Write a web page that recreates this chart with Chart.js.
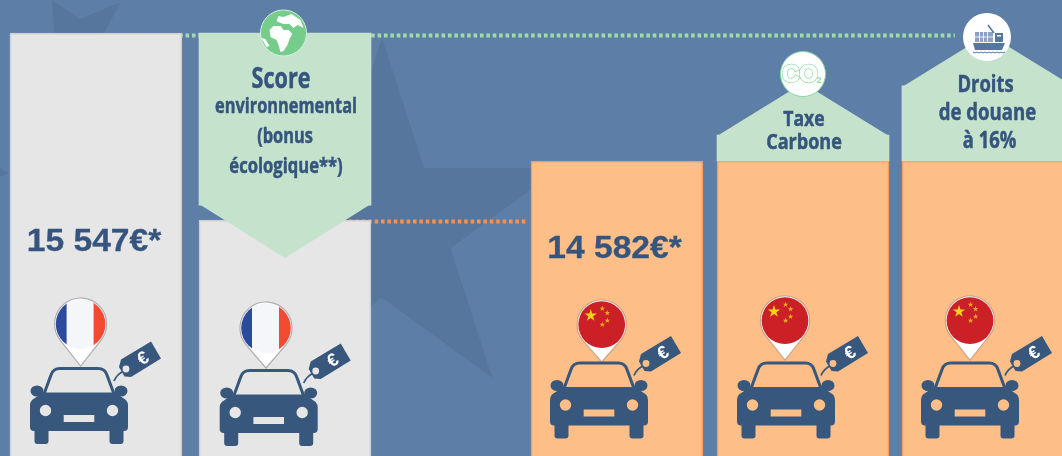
<!DOCTYPE html>
<html lang="fr">
<head>
<meta charset="utf-8">
<title>Prix France / Chine</title>
<style>
  html, body { margin: 0; padding: 0; background: #5d7ea6; overflow: hidden; }
  canvas { display: block; }
</style>
<script src="https://cdn.jsdelivr.net/npm/chart.js@4/dist/chart.umd.min.js"></script>
</head>
<body>
<canvas id="chart" width="1062" height="456"></canvas>
<script>
// =========================
// Data
const barSlots = [0, 1.011, 2.786, 3.781, 4.77];
const barValues = [15547, 14137, 14582, 14582, 14582];
const barOrigin = ['fr', 'fr', 'cn', 'cn', 'cn'];

// green labels: bottom and top of the box, then the point of the arrow/roof
const extraSlots = [1.011, 3.781, 4.77];
const extraLow = [14250, 14582, 14582];
const extraHigh = [15547, 14778, 15148];
const extraTips = [13851, 15170, 15540];

const greenLineX = [0, 4.593];
const greenLineY = [15528, 15528];
const orangeLineX = [1.011, 2.305];
const orangeLineY = [14126, 14126];

const priceBars = [0, 2];
const scoreLines = ['Score', 'environnemental', '(bonus', 'écologique**)'];
const taxeLines = ['Taxe', 'Carbone'];
const droitsLines = ['Droits', 'de douane', 'à 16%'];

// =========================
// Colours
const BG = '#5d7ea6';
const STAR = '#56769d';
const GREY = '#e6e6e6';
const GREY_EDGE = '#cfcfcf';
const ORANGE = '#fdbf87';
const ORANGE_EDGE = '#f79a5e';
const GREEN = '#c5e3cc';
const INK = '#36557e';
const CAR = '#38577c';

const fillOf = o => o === 'fr' ? GREY : ORANGE;
const toPoints = (xs, ys) => xs.map((x, i) => ({x, y: ys[i]}));

// =========================
// Drawing helpers
function poly(ctx, pts, color){
  ctx.fillStyle = color;
  ctx.beginPath();
  pts.forEach((p, i) => i ? ctx.lineTo(p[0], p[1]) : ctx.moveTo(p[0], p[1]));
  ctx.closePath();
  ctx.fill();
}

function starPoints(cx, cy, R){
  const pts = [];
  for(let i = 0; i < 10; i++){
    const r = i % 2 ? R * 0.382 : R;
    const a = -Math.PI / 2 + i * Math.PI / 5;
    pts.push([cx + r * Math.cos(a), cy + r * Math.sin(a)]);
  }
  return pts;
}

// squeezed Open Sans stands in for the condensed cut, a thin stroke adds the weight
function label(ctx, text, cx, y, size, sx, font){
  ctx.save();
  ctx.translate(cx, y);
  ctx.scale(sx, 1);
  ctx.font = `bold ${size}px ${font || '"Open Sans"'}`;
  ctx.fillStyle = INK;
  ctx.strokeStyle = INK;
  ctx.lineWidth = font ? 0.3 : 0.5;
  ctx.textAlign = 'center';
  ctx.textBaseline = 'alphabetic';
  ctx.fillText(text, 0, 0);
  ctx.strokeText(text, 0, 0);
  ctx.restore();
}

function drawBackground(ctx, w, h){
  ctx.fillStyle = BG;
  ctx.fillRect(0, 0, w, h);
  poly(ctx, starPoints(382, 226, 188), STAR);
  poly(ctx, [[52, 0], [80, 19], [121, 2], [100, 40], [55, 40]], STAR);
  poly(ctx, [[0, 168], [9, 173], [0, 177]], STAR);
}

function drawCar(ctx, cx, top, bg){
  ctx.save();
  ctx.translate(cx, top);
  ctx.fillStyle = CAR;
  ctx.strokeStyle = CAR;

  // roof outline
  ctx.lineWidth = 3;
  ctx.beginPath();
  ctx.moveTo(-35, 27);
  ctx.lineTo(-28, 8);
  ctx.quadraticCurveTo(-26, 1.5, -19, 1.5);
  ctx.lineTo(19, 1.5);
  ctx.quadraticCurveTo(26, 1.5, 28, 8);
  ctx.lineTo(35, 27);
  ctx.stroke();

  // mirrors
  ctx.beginPath();
  ctx.ellipse(-42, 24, 6.5, 5.5, 0, 0, Math.PI * 2);
  ctx.ellipse(42, 24, 6.5, 5.5, 0, 0, Math.PI * 2);
  ctx.fill();

  // body and wheels
  ctx.beginPath();
  ctx.moveTo(-36, 25.5);
  ctx.lineTo(36, 25.5);
  ctx.lineTo(47, 33);
  ctx.quadraticCurveTo(49, 35, 49, 39);
  ctx.lineTo(49, 60);
  ctx.quadraticCurveTo(49, 64, 45, 64);
  ctx.lineTo(-45, 64);
  ctx.quadraticCurveTo(-49, 64, -49, 60);
  ctx.lineTo(-49, 39);
  ctx.quadraticCurveTo(-49, 35, -47, 33);
  ctx.closePath();
  ctx.fill();
  ctx.beginPath();
  ctx.roundRect(-44.5, 60, 14, 17, 3);
  ctx.roundRect(30.5, 60, 14, 17, 3);
  ctx.fill();

  // lights and plate
  ctx.fillStyle = bg;
  ctx.beginPath();
  ctx.arc(-33.5, 43.5, 5.7, 0, Math.PI * 2);
  ctx.arc(33.5, 43.5, 5.7, 0, Math.PI * 2);
  ctx.fill();
  ctx.fillRect(-15.3, 48, 30.6, 7);

  // price tag
  ctx.lineWidth = 1.8;
  ctx.beginPath();
  ctx.moveTo(35, 14);
  ctx.quadraticCurveTo(38, 7, 45, 4);
  ctx.stroke();
  ctx.fillStyle = CAR;
  ctx.beginPath();
  ctx.moveTo(72, -25.5);
  ctx.lineTo(82, -8.5);
  ctx.lineTo(52, 10);
  ctx.lineTo(45.5, 9.5);
  ctx.lineTo(40, 0);
  ctx.lineTo(42, -7.5);
  ctx.closePath();
  ctx.fill();
  ctx.fillStyle = bg;
  ctx.beginPath();
  ctx.arc(47, 2, 3.4, 0, Math.PI * 2);
  ctx.fill();
  ctx.translate(64, -9);
  ctx.rotate(-0.55);
  ctx.fillStyle = '#ffffff';
  ctx.font = 'bold 18px "Liberation Sans"';
  ctx.textAlign = 'center';
  ctx.textBaseline = 'middle';
  ctx.fillText('€', 0, 1);
  ctx.restore();
}

function drawPin(ctx, cx, top, tip, origin){
  const R = origin === 'fr' ? 26 : 24.6;
  const cy = top + R;
  const spread = 0.62;
  ctx.save();

  // teardrop
  ctx.beginPath();
  ctx.arc(cx, cy, R, Math.PI * 0.5 + spread + 0.25, Math.PI * 0.5 - spread - 0.25);
  ctx.lineTo(cx, tip);
  ctx.closePath();
  ctx.fillStyle = '#ffffff';
  ctx.fill();
  ctx.strokeStyle = origin === 'fr' ? 'rgba(130,130,130,0.6)' : 'rgba(170,130,110,0.6)';
  ctx.lineWidth = 1.2;
  ctx.stroke();

  // flag disc
  ctx.beginPath();
  ctx.arc(cx, cy, R - 1.2, 0, Math.PI * 2);
  ctx.clip();
  if(origin === 'fr'){
    ctx.fillStyle = '#f5f6fa';
    ctx.fillRect(cx - R, top, 2 * R, 2 * R);
    ctx.fillStyle = '#2c4a9e';
    ctx.fillRect(cx - R, top, R - 14, 2 * R);
    ctx.fillStyle = '#f44a32';
    ctx.fillRect(cx + 13, top, R - 13, 2 * R);
  } else {
    ctx.fillStyle = '#cb2026';
    ctx.fillRect(cx - R, top, 2 * R, 2 * R);
    poly(ctx, starPoints(cx - 11, cy - 9, 6.5), '#f7d21c');
    [[0.6, -16], [5.6, -11.6], [5.6, -4], [0.6, 0]].forEach(p => {
      poly(ctx, starPoints(cx + p[0], cy + p[1], 3), '#eda823');
    });
  }
  ctx.restore();
}

function drawDisc(ctx, cx, cy, r, fill, edge){
  ctx.beginPath();
  ctx.arc(cx, cy, r, 0, Math.PI * 2);
  ctx.fillStyle = fill;
  ctx.fill();
  if(edge){
    ctx.strokeStyle = edge;
    ctx.lineWidth = 1;
    ctx.stroke();
  }
}

function drawGlobe(ctx, cx, cy){
  drawDisc(ctx, cx, cy, 23, '#75cc8b', '#d6efdc');
  const at = pts => pts.map(p => [cx + p[0], cy + p[1]]);
  poly(ctx, at([[-14, -3], [-10, -7], [-3, -7], [0, -3], [5, -3], [9, 1], [6, 6], [4, 12],
    [0, 18], [-3, 19], [-5, 12], [-7, 7], [-13, 4]]), '#ffffff');
  poly(ctx, at([[-7, -12], [-5, -17], [0, -16], [8, -19], [17, -13], [20, -5], [14, -8],
    [10, -5], [6, -9], [0, -9], [-3, -10]]), '#ffffff');
  poly(ctx, at([[-22, 5], [-18, 6], [-14, 13], [-17, 14]]), '#ffffff');
}

function drawCo2(ctx, cx, cy){
  drawDisc(ctx, cx, cy, 22.5, '#ffffff', '#86d9a0');
  ctx.save();
  ctx.font = 'bold 24px "Liberation Sans"';
  ctx.textAlign = 'center';
  ctx.textBaseline = 'alphabetic';
  // double contour: thick green, thin white on top
  ctx.strokeStyle = '#8fdca6';
  ctx.lineWidth = 2.4;
  ctx.strokeText('CO', cx - 3, cy + 8);
  ctx.strokeStyle = '#ffffff';
  ctx.lineWidth = 1;
  ctx.strokeText('CO', cx - 3, cy + 8);
  ctx.fillStyle = '#ffffff';
  ctx.fillText('CO', cx - 3, cy + 8);
  ctx.font = 'bold 9px "Liberation Sans"';
  ctx.fillStyle = '#8fdca6';
  ctx.fillText('2', cx + 16, cy + 9);
  ctx.restore();
}

function drawShip(ctx, cx, cy){
  drawDisc(ctx, cx, cy, 24, '#ffffff');
  const ship = '#5477a2';
  ctx.save();
  ctx.translate(cx, cy);
  ctx.fillStyle = '#8ba3c2';
  ctx.fillRect(-12, -5, 18, 10);
  ctx.fillStyle = ship;
  ctx.fillRect(8, -4, 8, 9);
  ctx.fillStyle = '#ffffff';
  ctx.fillRect(-12, -0.4, 18, 0.8);
  [-8, -4, 0].forEach(x => ctx.fillRect(x, -5, 0.8, 10));
  ctx.fillRect(10, -2, 4, 1.5);
  poly(ctx, [[-14, 6], [18, 6], [15, 13], [-12, 13]], ship);
  ctx.strokeStyle = ship;
  ctx.lineWidth = 1.6;
  ctx.beginPath();
  ctx.moveTo(1, -12);
  ctx.lineTo(7, -4);
  ctx.stroke();
  ctx.lineWidth = 1;
  ctx.beginPath();
  ctx.moveTo(-14, 15);
  for(let x = -14; x < 18; x += 4) ctx.quadraticCurveTo(x + 2, 17, x + 4, 15);
  ctx.stroke();
  ctx.restore();
}

// =========================
// Plugin: background, roofs, icons, text around the bars
const posterPlugin = {
  id: 'poster',
  beforeDatasetsDraw(chart){
    drawBackground(chart.ctx, chart.width, chart.height);
  },
  afterDatasetsDraw(chart){
    const ctx = chart.ctx;
    const y = chart.scales.y;
    const boxes = chart.getDatasetMeta(1).data;

    // arrow under the first box, roofs over the other two
    boxes.forEach((el, i) => {
      const half = el.width / 2;
      const down = i === 0;
      const edge = down ? el.base - 1 : el.y + 1;
      poly(ctx, [[el.x - half, edge], [el.x + half, edge], [el.x, y.getPixelForValue(extraTips[i])]], GREEN);
    });

    priceBars.forEach(i => {
      const text = String(barValues[i]).replace(/\B(?=(\d{3})+$)/g, ' ') + '€*';
      const cx = i === 0 ? 94 : 614.5;
      label(ctx, text, cx, i === 0 ? 251 : 258, 32, 1.05, '"Liberation Sans"');
    });

    drawPin(ctx, 80.6, 298, 366, barOrigin[0]);
    drawPin(ctx, 266, 302, 368, barOrigin[1]);
    drawPin(ctx, 601.7, 300, 362, barOrigin[2]);
    drawPin(ctx, 785, 296, 360, barOrigin[3]);
    drawPin(ctx, 970, 296, 360, barOrigin[4]);

    drawCar(ctx, 79, 367, fillOf(barOrigin[0]));
    drawCar(ctx, 268.7, 369, fillOf(barOrigin[1]));
    drawCar(ctx, 599, 361.5, fillOf(barOrigin[2]));
    drawCar(ctx, 786, 361.5, fillOf(barOrigin[3]));
    drawCar(ctx, 970, 361.5, fillOf(barOrigin[4]));

    drawGlobe(ctx, 283.5, 33);
    drawCo2(ctx, 803, 74);
    drawShip(ctx, 987, 37);

    label(ctx, scoreLines[0], 281, 88, 28, 0.77);
    label(ctx, scoreLines[1], 286, 113, 21, 0.78);
    label(ctx, scoreLines[2], 285, 143, 21, 0.78);
    label(ctx, scoreLines[3], 286, 173, 21, 0.79);
    label(ctx, taxeLines[0], 804, 126, 22, 0.8);
    label(ctx, taxeLines[1], 804, 149, 22, 0.82);
    label(ctx, droitsLines[0], 985.5, 92, 23, 0.8);
    label(ctx, droitsLines[1], 987.5, 120, 23, 0.81);
    label(ctx, droitsLines[2], 989.5, 148, 23, 0.8);
  }
};

// =========================
// Chart
new Chart(document.getElementById('chart'), {
  type: 'bar',
  data: {
    datasets: [
      {
        label: 'Prix',
        data: toPoints(barSlots, barValues),
        backgroundColor: barOrigin.map(fillOf),
        borderColor: barOrigin.map(o => o === 'fr' ? GREY_EDGE : ORANGE_EDGE),
        borderWidth: 1.5,
        barThickness: 172,
        grouped: false,
        order: 2
      },
      {
        label: 'Écarts',
        data: extraSlots.map((x, i) => ({x, y: [extraLow[i], extraHigh[i]]})),
        backgroundColor: GREEN,
        barThickness: 172,
        grouped: false,
        order: 1
      },
      {
        type: 'line',
        label: 'Repère vert',
        data: toPoints(greenLineX, greenLineY),
        borderColor: '#9fdcaa',
        borderWidth: 4,
        borderDash: [3.6, 2.8],
        pointRadius: 0,
        order: 3
      },
      {
        type: 'line',
        label: 'Repère orange',
        data: toPoints(orangeLineX, orangeLineY),
        borderColor: '#fb8f4e',
        borderWidth: 4,
        borderDash: [3.6, 2.8],
        pointRadius: 0,
        order: 3
      }
    ]
  },
  options: {
    responsive: false,
    animation: false,
    layout: { padding: 0 },
    plugins: { legend: { display: false }, tooltip: { enabled: false } },
    scales: {
      x: { type: 'linear', display: false, min: -0.513, max: 5.166, offset: false },
      y: { display: false, min: 12358, max: 15796 }
    }
  },
  plugins: [posterPlugin]
});
</script>
</body>
</html>
